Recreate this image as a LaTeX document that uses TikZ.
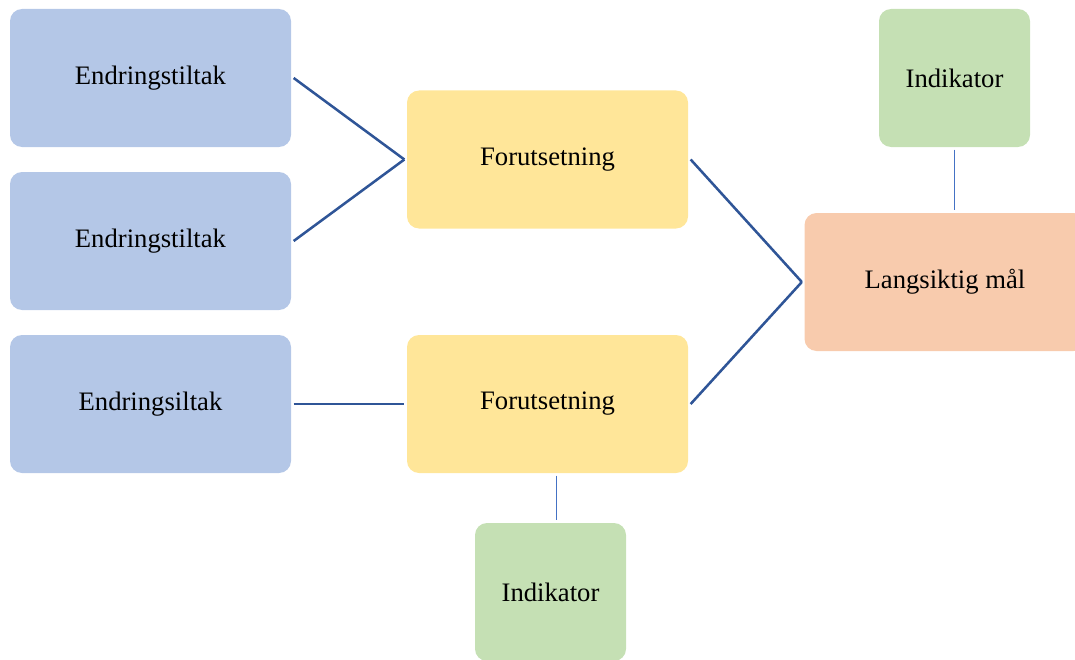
\documentclass[tikz,border=0pt]{standalone}
\usepackage{fontspec}
\setmainfont{Liberation Serif}
\usetikzlibrary{calc}
\definecolor{C0}{HTML}{B4C7E7}
\definecolor{C1}{HTML}{FFE699}
\definecolor{C2}{HTML}{F8CBAD}
\definecolor{C3}{HTML}{C5E0B4}
\definecolor{L0}{HTML}{2F5597}
\definecolor{L1}{HTML}{4472C4}

\begin{document}
\begin{tikzpicture}[x=0.75pt, y=-0.75pt,
    box/.style={rounded corners=9pt, inner sep=0pt, outer sep=2pt,
        minimum width=210.75pt, minimum height=103.5pt,
        font=\fontsize{20}{24}\selectfont},
    smallbox/.style={box, minimum width=113.25pt},
    link/.style={L0, line width=1.9pt},
    tick/.style={L1, line width=1pt}]
    %% page
    \clip (0,0) rectangle (1075,660);
    %% change measures
    \node[box, fill=C0] (b1) at (150.5, 78)  {Endringstiltak};
    \node[box, fill=C0] (b2) at (150.5, 241) {Endringstiltak};
    \node[box, fill=C0] (b3) at (150.5, 404) {Endringsiltak};
    %% preconditions
    \node[box, fill=C1] (f1) at (547.5, 159.5) {Forutsetning};
    \node[box, fill=C1] (f2) at (547.5, 404)   {Forutsetning};
    %% long-term goal
    \node[box, fill=C2] (m) at (945, 282) {Langsiktig mål};
    %% indicators
    \node[smallbox, fill=C3] (i1) at (954.5, 78)  {Indikator};
    \node[smallbox, fill=C3] (i2) at (550.5, 592) {Indikator};
    %% links
    \draw[link] (b1.east) -- (f1.west);
    \draw[link] (b2.east) -- (f1.west);
    \draw[link] (b3.east) -- (f2.west);
    \draw[link] (f1.east) -- (m.west);
    \draw[link] (f2.east) -- (m.west);
    %% indicator ticks
    \draw[tick] (i1.south) -- (i1.south |- m.north);
    \draw[tick] ($(f2.south)+(9,0)$) -- ($(i2.north)+(6,0)$);
\end{tikzpicture}
\end{document}
